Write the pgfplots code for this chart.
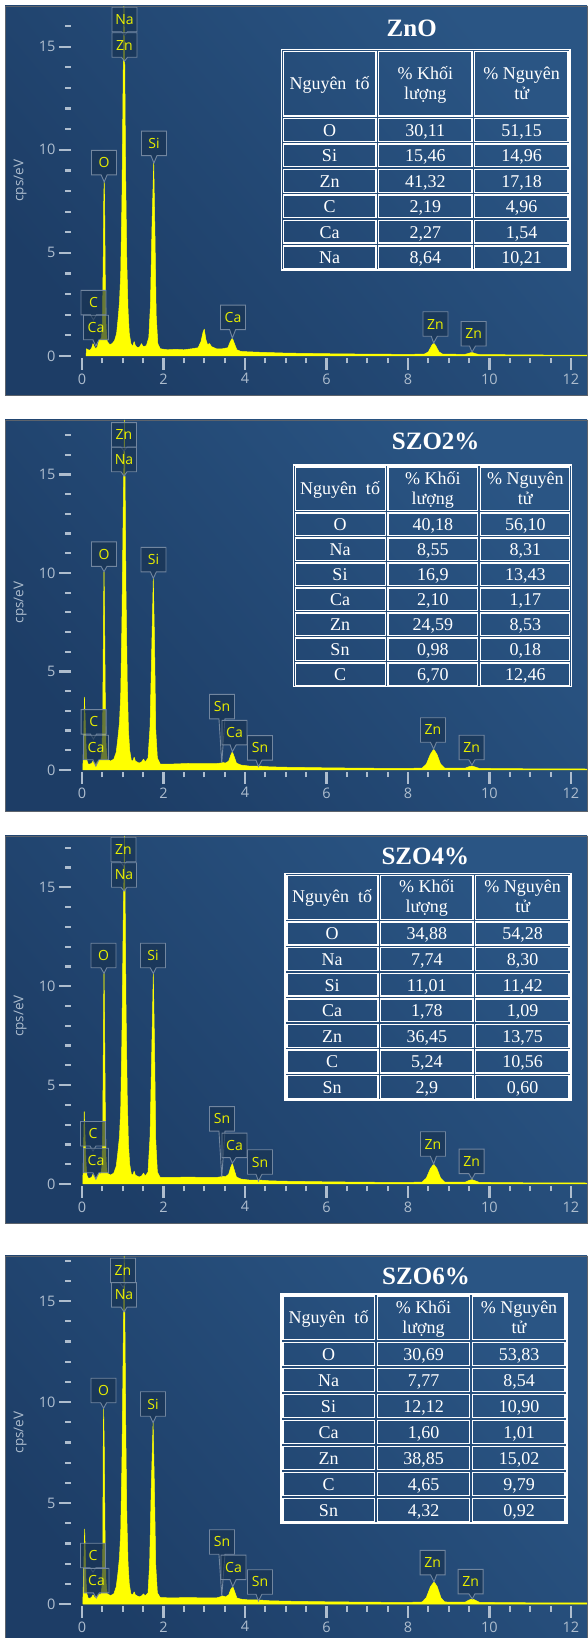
\documentclass[border=0pt]{standalone}
\usepackage{fontspec}
\setmainfont{Liberation Serif}
\newfontfamily\uisans{Open Sans}
\usepackage{pgfplots}
\pgfplotsset{compat=1.18}
\usetikzlibrary{shapes.callouts}

\definecolor{bgA}{HTML}{1D3D66}
\definecolor{bgB}{HTML}{2A5584}
\definecolor{tickc}{HTML}{AEBDCE}
\definecolor{spec}{HTML}{FFFF00}
\definecolor{lblfill}{HTML}{183250}
\definecolor{lbldraw}{HTML}{72869F}
\definecolor{lbltext}{HTML}{E8EE00}
\definecolor{framec}{HTML}{5C636C}

\pgfplotsset{
  eds/.style={
    scale only axis, width=516pt,
    xmin=-0.27, xmax=12.393,
    axis line style={draw=none},
    tick align=outside,
    xtick={0,2,...,12}, minor x tick num=3,
    ytick={0,5,10,15}, minor ytick={1,2,3,4,6,7,8,9,11,12,13,14,16,17},
    xtick pos=left, ytick pos=left,
    major tick length=12pt, minor tick length=5.5pt,
    tick style={tickc, line width=2.2pt},
    ticklabel style={font=\uisans\fontsize{14.5}{16}\selectfont, text=tickc},
    /pgf/number format/assume math mode=true,
    ylabel={cps/eV},
    ylabel style={at={(axis cs:-1.52,8.5)}, anchor=center, font=\uisans\fontsize{13.5}{15}\selectfont, text=tickc},
    clip=false,
  },
}
\tikzset{
  lbl/.style={rectangle callout, draw=lbldraw, fill=lblfill, fill opacity=0.65, text opacity=1,
    line width=0.9pt, minimum width=25pt, minimum height=24.5pt, inner sep=0pt,
    text=lbltext, font=\uisans\fontsize{14}{16}\selectfont, callout pointer width=6pt},
  tbl/.style={draw=white, line width=1.4pt},
  tt/.style={text=white, font=\fontsize{18}{20}\selectfont, inner sep=0pt},
  ttl/.style={text=white, font=\bfseries\fontsize{25}{28}\selectfont, inner sep=0pt, anchor=base},
}
% #1 L, #2 A, #3 B, #4 R, #5 T, #6 H, #7 row height, #8 bottom, #9 rows
\newcommand\edstable[9]{%
  \draw[tbl] (#1,#5) rectangle (#4,#8);
  \pgfmathsetmacro\hm{(#5+#6)/2}
  \draw[tbl] ({#1+2},{#5+2}) rectangle ({#2-1.4},{#6-1.4});
  \draw[tbl] ({#2+1.4},{#5+2}) rectangle ({#3-1.4},{#6-1.4});
  \draw[tbl] ({#3+1.4},{#5+2}) rectangle ({#4-2},{#6-1.4});
  \node[tt, anchor=base] at ({(#1+#2)/2},{\hm+6}) {Nguyên\ \ tố};
  \node[tt, anchor=base] at ({(#2+#3)/2},{\hm-4}) {\% Khối};
  \node[tt, anchor=base] at ({(#2+#3)/2},{\hm+16}) {lượng};
  \node[tt, anchor=base] at ({(#3+#4)/2},{\hm-4}) {\% Nguyên};
  \node[tt, anchor=base] at ({(#3+#4)/2},{\hm+16}) {tử};
  \foreach \e/\m/\a [count=\i from 0] in {#9} {
    \pgfmathsetmacro\ya{#6+\i*#7}
    \pgfmathsetmacro\yb{#6+(\i+1)*#7}
    \pgfmathsetmacro\ym{(\ya+\yb)/2+6.5}
    \draw[tbl] ({#1+2},{\ya+1.4}) rectangle ({#2-1.4},{\yb-1.4});
    \draw[tbl] ({#2+1.4},{\ya+1.4}) rectangle ({#3-1.4},{\yb-1.4});
    \draw[tbl] ({#3+1.4},{\ya+1.4}) rectangle ({#4-2},{\yb-1.4});
    \node[tt, anchor=base] at ({(#1+#2)/2},\ym) {\e};
    \node[tt, anchor=base] at ({(#2+#3)/2},\ym) {\m};
    \node[tt, anchor=base] at ({(#3+#4)/2},\ym) {\a};
  }
}

\begin{document}
\begin{tikzpicture}
\useasboundingbox (0,0) rectangle (588pt,1638pt);
\fill[white] (0,0) rectangle (588pt,1638pt);

% ---------- panel frames ----------
\begin{scope}[x=1pt, y=-1pt, yshift=1638pt]
  \foreach \t/\b in {6/395, 420/811, 836/1223, 1256/1646} {
    \shade[top color=bgB, bottom color=bgA, shading angle=-50] (5,\t) rectangle (587,\b);
    \draw[framec, line width=0.8pt] (5,\t) rectangle (587,\b);
  }
\end{scope}

% ---------- Panel 1: ZnO ----------
\begin{axis}[eds, at={(71pt,1280pt)}, anchor=south west, height=352pt, ymin=-0.097, ymax=16.974]
\addplot[draw=spec, fill=spec, line width=0.5pt, line join=round] coordinates {
(0.10,0) (0.11,0.35) (0.15,0.3) (0.20,0.28) (0.24,0.4) (0.27,0.6) (0.30,0.45) (0.34,0.35)
(0.38,0.45) (0.41,0.75) (0.45,0.8) (0.48,0.9) (0.50,1.6) (0.52,4.5) (0.535,7.8) (0.545,8.45)
(0.555,7.6) (0.57,4.0) (0.59,1.4) (0.62,0.7) (0.68,0.55) (0.74,0.6) (0.80,0.75) (0.85,1.1)
(0.89,1.9) (0.92,2.6) (0.95,4.0) (0.98,7.5) (1.01,13.5) (1.03,16.97) (1.05,14.0) (1.07,9.0)
(1.10,4.5) (1.13,2.2) (1.16,1.1) (1.20,0.6) (1.24,0.45) (1.28,0.7) (1.31,0.5) (1.36,0.4)
(1.42,0.45) (1.46,0.6) (1.50,0.45) (1.58,0.5) (1.64,0.9) (1.68,2.5) (1.72,6.5) (1.76,9.35)
(1.79,6.0) (1.82,2.0) (1.86,0.6) (1.92,0.35) (2.1,0.3) (2.3,0.32) (2.5,0.3) (2.7,0.35)
(2.85,0.4) (2.92,0.7) (2.97,1.15) (3.0,1.3) (3.04,0.8) (3.08,0.55) (3.13,0.6) (3.18,0.45)
(3.3,0.35) (3.45,0.35) (3.58,0.4) (3.64,0.7) (3.69,0.87) (3.74,0.6) (3.8,0.3) (3.9,0.22)
(4.1,0.2) (4.5,0.17) (5.0,0.14) (6.0,0.11) (7.0,0.09) (8.0,0.08) (8.4,0.09) (8.5,0.2)
(8.58,0.5) (8.63,0.63) (8.68,0.5) (8.76,0.2) (8.85,0.09) (9.4,0.08) (9.5,0.13) (9.57,0.18)
(9.64,0.12) (9.75,0.07) (11,0.05) (12.39,0.04)
} \closedcycle;
\node[lbl, callout absolute pointer={(axis cs:1.043,15.55)}] at (axis cs:1.043,16.32) {Na};
\node[lbl, callout absolute pointer={(axis cs:1.043,14.3)}] at (axis cs:1.043,15.08) {Zn};
\node[lbl, callout absolute pointer={(axis cs:0.545,8.44)}] at (axis cs:0.54,9.38) {O};
\node[lbl, callout absolute pointer={(axis cs:1.765,9.36)}] at (axis cs:1.767,10.31) {Si};
\node[lbl, callout absolute pointer={(axis cs:0.28,1.75)}] at (axis cs:0.282,2.59) {C};
\node[lbl, callout absolute pointer={(axis cs:0.34,0.48)}] at (axis cs:0.344,1.38) {Ca};
\node[lbl, callout absolute pointer={(axis cs:3.69,0.87)}] at (axis cs:3.706,1.87) {Ca};
\node[lbl, callout absolute pointer={(axis cs:8.63,0.63)}] at (axis cs:8.675,1.55) {Zn};
\node[lbl, callout absolute pointer={(axis cs:9.57,0.19)}] at (axis cs:9.612,1.08) {Zn};
\end{axis}

% ---------- Panel 2: SZO2% ----------
\begin{axis}[eds, at={(71pt,866pt)}, anchor=south west, height=352pt, ymin=-0.1015, ymax=17.766]
\addplot[draw=spec, fill=spec, line width=0.5pt, line join=round] coordinates {
(0.02,0) (0.04,1.5) (0.06,3.7) (0.08,2.5) (0.10,1.2) (0.12,0.5) (0.15,0.3) (0.2,0.3)
(0.24,0.35) (0.27,0.45) (0.30,0.35) (0.34,0.3) (0.38,0.45) (0.42,0.5) (0.46,0.5) (0.49,0.9)
(0.51,3.0) (0.53,8.5) (0.54,10.07) (0.55,8.8) (0.57,4.0) (0.59,1.2) (0.62,0.55) (0.70,0.45)
(0.78,0.55) (0.84,0.9) (0.88,1.6) (0.92,2.4) (0.95,3.8) (0.98,7.5) (1.01,13.0) (1.04,17.76)
(1.06,14) (1.08,9) (1.11,4.5) (1.14,2.0) (1.17,1.0) (1.21,0.5) (1.25,0.45) (1.28,0.65)
(1.31,0.45) (1.40,0.35) (1.46,0.4) (1.51,0.55) (1.55,0.4) (1.62,0.6) (1.67,2.2) (1.71,6.0)
(1.75,9.73) (1.78,6.5) (1.81,2.0) (1.85,0.6) (1.92,0.3) (2.2,0.3) (2.6,0.33) (3.0,0.32)
(3.3,0.32) (3.40,0.35) (3.45,0.38) (3.52,0.35) (3.60,0.45) (3.65,0.75) (3.69,0.93) (3.73,0.7)
(3.79,0.35) (3.9,0.25) (4.1,0.2) (4.35,0.2) (4.6,0.16) (5,0.14) (6,0.11) (7,0.09) (8,0.08)
(8.35,0.1) (8.45,0.3) (8.55,0.8) (8.63,1.05) (8.71,0.8) (8.8,0.3) (8.9,0.1) (9.4,0.09)
(9.5,0.17) (9.57,0.2) (9.65,0.15) (9.75,0.08) (11,0.06) (12.39,0.05)
} \closedcycle;
\node[lbl, callout absolute pointer={(axis cs:1.031,16.19)}] at (axis cs:1.031,17.01) {Zn};
\node[lbl, callout absolute pointer={(axis cs:1.031,14.92)}] at (axis cs:1.031,15.76) {Na};
\node[lbl, callout absolute pointer={(axis cs:0.54,10.07)}] at (axis cs:0.54,10.96) {O};
\node[lbl, callout absolute pointer={(axis cs:1.75,9.73)}] at (axis cs:1.755,10.68) {Si};
\node[lbl, callout absolute pointer={(axis cs:0.28,1.57)}] at (axis cs:0.287,2.44) {C};
\node[lbl, callout absolute pointer={(axis cs:0.34,0.2)}] at (axis cs:0.344,1.14) {Ca};
\node[lbl, callout absolute pointer={(axis cs:3.43,0.36)}] at (axis cs:3.436,3.22) {Sn};
\node[lbl, callout absolute pointer={(axis cs:3.69,0.93)}] at (axis cs:3.742,1.9) {Ca};
\node[lbl, callout absolute pointer={(axis cs:4.33,0.17)}] at (axis cs:4.368,1.12) {Sn};
\node[lbl, callout absolute pointer={(axis cs:8.63,1.07)}] at (axis cs:8.613,2.03) {Zn};
\node[lbl, callout absolute pointer={(axis cs:9.57,0.25)}] at (axis cs:9.563,1.14) {Zn};
\end{axis}

% ---------- Panel 3: SZO4% ----------
\begin{axis}[eds, at={(71pt,452pt)}, anchor=south west, height=350pt, ymin=-0.1011, ymax=17.594]
\addplot[draw=spec, fill=spec, line width=0.5pt, line join=round] coordinates {
(0.02,0) (0.035,1.5) (0.055,3.66) (0.075,2.4) (0.10,1.0) (0.12,0.45) (0.15,0.3) (0.2,0.3)
(0.24,0.35) (0.27,0.5) (0.30,0.35) (0.34,0.3) (0.38,0.45) (0.42,0.55) (0.46,0.5) (0.49,0.9)
(0.51,3.2) (0.53,9.0) (0.54,10.65) (0.55,9.2) (0.57,4.2) (0.59,1.2) (0.62,0.55) (0.70,0.45)
(0.78,0.55) (0.84,0.9) (0.88,1.6) (0.92,2.4) (0.95,3.8) (0.98,7.5) (1.01,13.0) (1.04,17.59)
(1.06,14) (1.08,9) (1.11,4.5) (1.14,2.0) (1.17,1.0) (1.21,0.5) (1.25,0.45) (1.28,0.65)
(1.31,0.45) (1.40,0.35) (1.46,0.4) (1.51,0.55) (1.55,0.4) (1.62,0.6) (1.67,2.4) (1.71,6.5)
(1.75,10.65) (1.78,7.0) (1.81,2.2) (1.85,0.6) (1.92,0.33) (2.2,0.33) (2.6,0.35) (3.0,0.33)
(3.3,0.33) (3.40,0.36) (3.45,0.4) (3.52,0.36) (3.60,0.5) (3.65,0.85) (3.69,1.04) (3.73,0.75)
(3.79,0.35) (3.9,0.25) (4.1,0.2) (4.35,0.2) (4.6,0.16) (5,0.14) (6,0.11) (7,0.09) (8,0.08)
(8.35,0.1) (8.45,0.3) (8.55,0.78) (8.63,1.0) (8.71,0.78) (8.8,0.3) (8.9,0.1) (9.4,0.09)
(9.5,0.18) (9.57,0.22) (9.65,0.16) (9.75,0.08) (11,0.06) (12.39,0.05)
} \closedcycle;
\node[lbl, callout absolute pointer={(axis cs:1.018,16.08)}] at (axis cs:1.018,16.91) {Zn};
\node[lbl, callout absolute pointer={(axis cs:1.031,14.81)}] at (axis cs:1.031,15.62) {Na};
\node[lbl, callout absolute pointer={(axis cs:0.54,10.65)}] at (axis cs:0.528,11.55) {O};
\node[lbl, callout absolute pointer={(axis cs:1.75,10.65)}] at (axis cs:1.742,11.55) {Si};
\node[lbl, callout absolute pointer={(axis cs:0.27,1.67)}] at (axis cs:0.27,2.54) {C};
\node[lbl, callout absolute pointer={(axis cs:0.34,0.25)}] at (axis cs:0.344,1.19) {Ca};
\node[lbl, callout absolute pointer={(axis cs:3.43,0.35)}] at (axis cs:3.436,3.29) {Sn};
\node[lbl, callout absolute pointer={(axis cs:3.69,1.05)}] at (axis cs:3.742,1.95) {Ca};
\node[lbl, callout absolute pointer={(axis cs:4.33,0.15)}] at (axis cs:4.368,1.11) {Sn};
\node[lbl, callout absolute pointer={(axis cs:8.63,1.01)}] at (axis cs:8.613,2.02) {Zn};
\node[lbl, callout absolute pointer={(axis cs:9.57,0.25)}] at (axis cs:9.563,1.14) {Zn};
\end{axis}

% ---------- Panel 4: SZO6% ----------
\begin{axis}[eds, at={(71pt,32pt)}, anchor=south west, height=350pt, ymin=-0.099, ymax=17.228]
\addplot[draw=spec, fill=spec, line width=0.5pt, line join=round] coordinates {
(0.02,0) (0.04,1.6) (0.065,3.71) (0.085,2.3) (0.10,1.1) (0.12,0.5) (0.15,0.3) (0.2,0.28)
(0.24,0.35) (0.27,0.45) (0.30,0.35) (0.34,0.3) (0.38,0.45) (0.42,0.5) (0.46,0.45) (0.49,0.85)
(0.51,2.8) (0.52,7.5) (0.53,9.69) (0.545,8.0) (0.565,3.5) (0.59,1.1) (0.62,0.5) (0.70,0.42)
(0.78,0.5) (0.84,0.85) (0.88,1.5) (0.92,2.3) (0.95,3.6) (0.98,7) (1.01,12.5) (1.035,17.22)
(1.055,13.5) (1.075,8.5) (1.10,4.3) (1.13,2.0) (1.16,1.0) (1.20,0.5) (1.25,0.45) (1.28,0.6)
(1.31,0.45) (1.40,0.35) (1.46,0.4) (1.51,0.5) (1.55,0.4) (1.62,0.55) (1.66,2.0) (1.70,5.8)
(1.745,8.98) (1.775,6.0) (1.81,1.9) (1.85,0.55) (1.92,0.32) (2.2,0.3) (2.6,0.32) (3.0,0.3)
(3.3,0.3) (3.40,0.36) (3.45,0.4) (3.52,0.35) (3.60,0.45) (3.65,0.72) (3.70,0.86) (3.74,0.65)
(3.80,0.3) (3.9,0.24) (4.1,0.2) (4.35,0.2) (4.6,0.16) (5,0.14) (6,0.11) (7,0.09) (8,0.08)
(8.35,0.1) (8.45,0.32) (8.55,0.85) (8.64,1.1) (8.72,0.85) (8.81,0.3) (8.9,0.1) (9.4,0.09)
(9.5,0.2) (9.58,0.25) (9.66,0.18) (9.76,0.08) (11,0.06) (12.39,0.05)
} \closedcycle;
\node[lbl, callout absolute pointer={(axis cs:1.006,15.69)}] at (axis cs:1.006,16.51) {Zn};
\node[lbl, callout absolute pointer={(axis cs:1.031,14.46)}] at (axis cs:1.031,15.3) {Na};
\node[lbl, callout absolute pointer={(axis cs:0.53,9.69)}] at (axis cs:0.528,10.57) {O};
\node[lbl, callout absolute pointer={(axis cs:1.745,8.98)}] at (axis cs:1.742,9.9) {Si};
\node[lbl, callout absolute pointer={(axis cs:0.27,1.58)}] at (axis cs:0.27,2.4) {C};
\node[lbl, callout absolute pointer={(axis cs:0.35,0.3)}] at (axis cs:0.356,1.16) {Ca};
\node[lbl, callout absolute pointer={(axis cs:3.43,0.4)}] at (axis cs:3.436,3.07) {Sn};
\node[lbl, callout absolute pointer={(axis cs:3.70,0.86)}] at (axis cs:3.718,1.81) {Ca};
\node[lbl, callout absolute pointer={(axis cs:4.33,0.15)}] at (axis cs:4.368,1.09) {Sn};
\node[lbl, callout absolute pointer={(axis cs:8.64,1.1)}] at (axis cs:8.606,2.05) {Zn};
\node[lbl, callout absolute pointer={(axis cs:9.58,0.25)}] at (axis cs:9.536,1.11) {Zn};
\end{axis}

% ---------- titles and tables ----------
\begin{scope}[x=1pt, y=-1pt, yshift=1638pt]
  \node[ttl] at (411.7,36.5) {ZnO};
  \edstable{281.7}{377.3}{473.3}{570}{49.3}{117.3}{25.45}{270}
    {O/30{,}11/51{,}15, Si/15{,}46/14{,}96, Zn/41{,}32/17{,}18, C/2{,}19/4{,}96, Ca/2{,}27/1{,}54, Na/8{,}64/10{,}21}
  \node[ttl] at (435.7,450) {SZO2\%};
  \edstable{293.3}{386.7}{479}{571.7}{465}{511.7}{25}{686.7}
    {O/40{,}18/56{,}10, Na/8{,}55/8{,}31, Si/16{,}9/13{,}43, Ca/2{,}10/1{,}17, Zn/24{,}59/8{,}53, Sn/0{,}98/0{,}18, C/6{,}70/12{,}46}
  \node[ttl] at (425.3,865) {SZO4\%};
  \edstable{285}{379.3}{474.3}{571}{873.3}{920.7}{25.6}{1100}
    {O/34{,}88/54{,}28, Na/7{,}74/8{,}30, Si/11{,}01/11{,}42, Ca/1{,}78/1{,}09, Zn/36{,}45/13{,}75, C/5{,}24/10{,}56, Sn/2{,}9/0{,}60}
  \node[ttl] at (426,1285) {SZO6\%};
  \edstable{281}{376}{471}{567}{1294}{1341}{26}{1523}
    {O/30{,}69/53{,}83, Na/7{,}77/8{,}54, Si/12{,}12/10{,}90, Ca/1{,}60/1{,}01, Zn/38{,}85/15{,}02, C/4{,}65/9{,}79, Sn/4{,}32/0{,}92}
\end{scope}
\end{tikzpicture}
\end{document}
